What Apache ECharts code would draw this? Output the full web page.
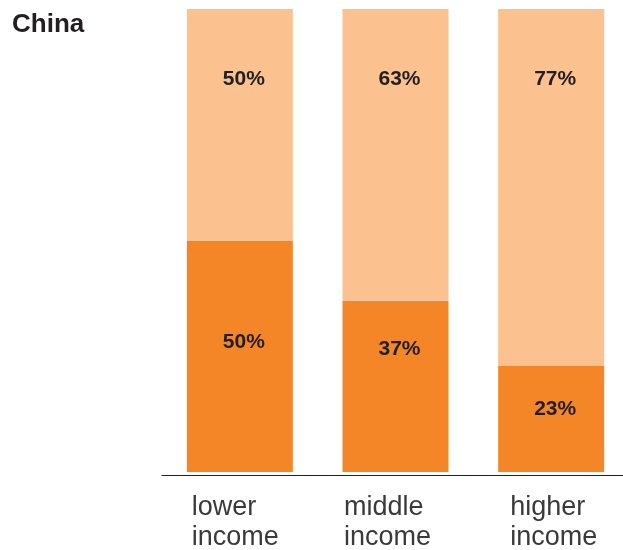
<!DOCTYPE html>
<html><head><meta charset="utf-8">
<script src="https://cdn.jsdelivr.net/npm/echarts@6/dist/echarts.min.js"></script>
<style>html,body{margin:0;padding:0;background:#fff}#c{width:623px;height:550px}</style>
</head><body><div id="c"></div>
<script>
const categories = ['lower\nincome', 'middle\nincome', 'higher\nincome'];
const bottomValues = [50, 37, 23];
const topValues = [50, 63, 77];
const bottomLabelDist = [91, 38, 33];
const topLabelDist = [60, 60, 60];
const labelBoxWidths = [96, 103, 82];

const chart = echarts.init(document.getElementById('c'));
const labelStyle = {show: true, position: 'insideTop', color: '#231f20', fontSize: 21, fontWeight: 'bold', fontFamily: 'Liberation Sans, Arial, sans-serif', formatter: '{c}%', offset: [4, 0]};
const rich = {};
labelBoxWidths.forEach((w, i) => {
  rich['a' + i] = {fontSize: 27, lineHeight: 30, width: w, align: 'left', color: '#3a3a3a', fontFamily: 'Liberation Sans, Arial, sans-serif'};
});
chart.setOption({
  animation: false,
  title: {text: 'China', left: 12, top: 12, padding: 0, textStyle: {fontSize: 26, fontWeight: 'bold', color: '#231f20', fontFamily: 'Liberation Sans, Arial, sans-serif'}},
  grid: {left: 162, width: 467, top: 9, bottom: 78, outerBoundsMode: 'none', containLabel: false},
  xAxis: {type: 'category', data: categories, offset: 3,
    axisLine: {onZero: false, lineStyle: {color: '#231f20', width: 1}}, axisTick: {show: false},
    axisLabel: {margin: 18, color: '#3a3a3a',
      formatter: (v, i) => v.split('\n').map(s => '{a' + i + '|' + s + '}').join('\n'),
      rich: rich}},
  yAxis: {type: 'value', min: 0, max: 100, show: false},
  series: [
    {type: 'bar', stack: 's', barWidth: 106, itemStyle: {color: '#F58628'},
     data: bottomValues.map((v, i) => ({value: v, label: Object.assign({}, labelStyle, {distance: bottomLabelDist[i]})}))},
    {type: 'bar', stack: 's', barWidth: 106, itemStyle: {color: '#FBC18F'},
     data: topValues.map((v, i) => ({value: v, label: Object.assign({}, labelStyle, {distance: topLabelDist[i]})}))}
  ]
});
</script></body></html>
